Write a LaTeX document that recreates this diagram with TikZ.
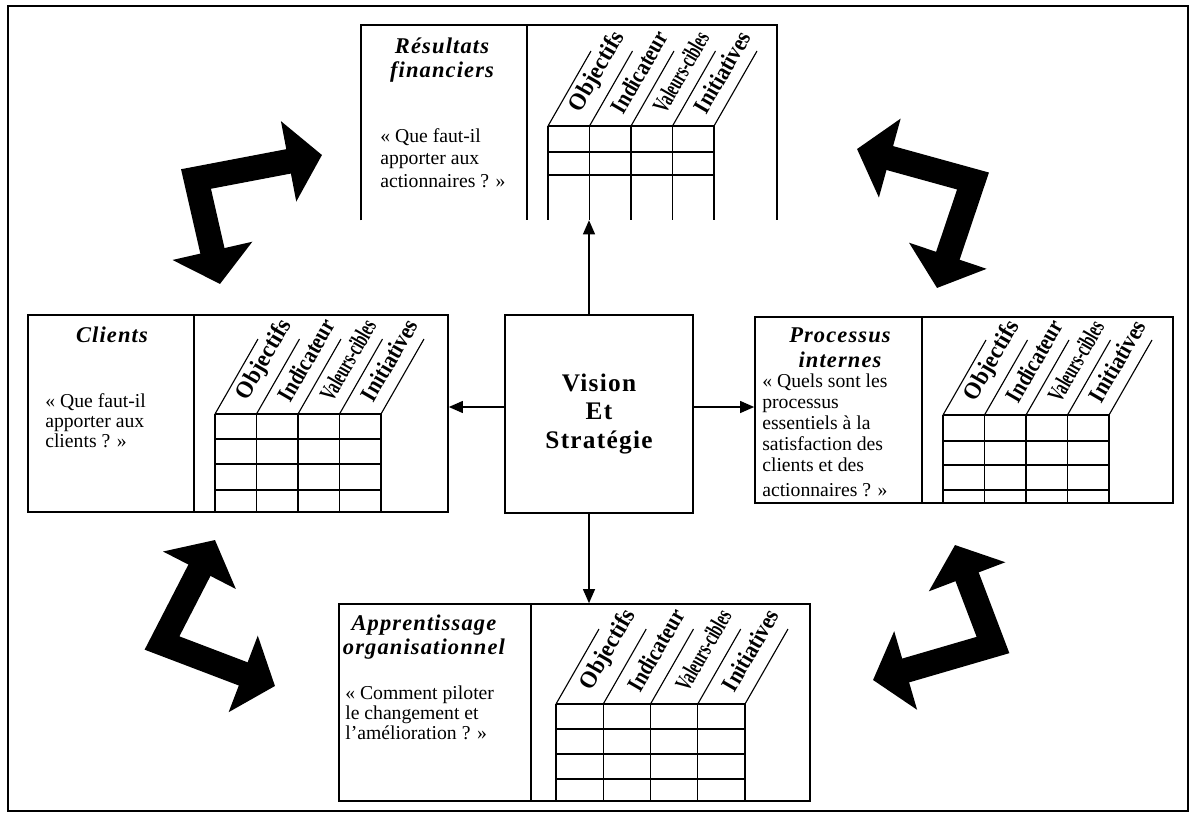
\documentclass[tikz,border=0pt]{standalone}
\usepackage{fontspec}
\setmainfont{Liberation Serif}
\newfontfamily\titrefont[LetterSpace=5]{Liberation Serif}
\usepackage{graphicx}
\usetikzlibrary{arrows.meta,fit}

% grille d'un tableau de bord : x0, largeur colonne, haut, bas, lignes, prefixe
\newcommand{\grille}[6]{%
  \foreach \c in {0,...,4} {
    \draw[trait] (#1+\c*#2,#3) -- (#1+\c*#2,#4);
    \draw[trait] (#1+\c*#2,#3) -- ++(43,-75);
  }
  \foreach \r in {#5}
    \draw[trait] (#1,\r) -- (#1+4*#2,\r);
  \foreach \t/\s [count=\i from 0] in {Objectifs/0.95,Indicateur/0.84,Valeurs-cibles/0.62,Initiatives/0.88}
    \node[entete] (#6-\i) at (#1+\i*#2+#2/2+29,#3-54) {\scalebox{\s}[1]{\t}};
}

\begin{document}
\begin{tikzpicture}[
  x=0.025cm, y=-0.025cm,
  cadre/.style={draw, line width=1.2pt, inner sep=0pt},
  panneau/.style={draw, line width=1.2pt, inner sep=0pt},
  trait/.style={thick},
  titre/.style={font=\titrefont\fontsize{16}{17.5}\selectfont\bfseries\itshape, align=center},
  question/.style={font=\fontsize{14}{15.5}\selectfont, align=left,
                   anchor=north west, inner sep=0pt},
  entete/.style={rotate=60, font=\fontsize{17}{17}\selectfont\bfseries, inner sep=0pt},
  fleche/.style={thick, -{Triangle[length=0.35cm, width=0.3cm]}},
  grosse/.style={line width=0.62cm, line join=miter,
                 {Triangle[length=0.85cm, width=2cm]}-{Triangle[length=0.85cm, width=2cm]}},
]
  \useasboundingbox (0,0) rectangle (1190,815);
  \node[cadre, fit={(8,6) (1188,811)}] (cadre) {};

  % centre
  \node[draw, line width=1.2pt, minimum width=4.7cm, minimum height=4.95cm,
        font=\titrefont\fontsize{18}{20}\selectfont\bfseries, align=center]
    (vision) at (599,414) {Vision\\Et\\Strat\'egie};

  % resultats financiers (ouvert en bas)
  \node[fit={(361,25) (777,220)}, inner sep=0pt] (fin) {};
  \draw[line width=1.2pt] (fin.south west) -- (fin.north west) -- (fin.north east) -- (fin.south east);
  \draw[line width=1.2pt] (527,25) -- (527,220);
  \node[titre] (finT) at (442,60) {R\'esultats\\financiers};
  \node[question, font=\fontsize{14}{16}\selectfont] (finQ) at (380,128)
    {« Que faut-il\\apporter aux\\actionnaires ? »};
  \grille{548}{41.5}{126}{220}{126,152,175}{fin}

  % clients
  \node[panneau, fit={(28,315) (448,512)}] (cli) {};
  \draw[line width=1.2pt] (194,315) -- (194,512);
  \node[titre] (cliT) at (112,335) {Clients};
  \node[question, font=\fontsize{14}{14.5}\selectfont] (cliQ) at (45,393)
    {« Que faut-il\\apporter aux\\clients ? »};
  \grille{215}{41.5}{414}{512}{414,439,464,490}{cli}

  % processus internes
  \node[panneau, fit={(755,317) (1173,503)}] (pro) {};
  \draw[line width=1.2pt] (922,317) -- (922,503);
  \node[titre] (proT) at (840,348) {Processus\\internes};
  \node[question, font=\fontsize{14}{14.8}\selectfont] (proQ) at (762,374)
    {« Quels sont les\\processus\\essentiels à la\\satisfaction des\\clients et des\\[3pt]actionnaires ? »};
  \grille{943}{41.5}{415}{503}{415,441,465,490}{pro}

  % apprentissage organisationnel
  \node[panneau, fit={(339,604) (810,801)}] (app) {};
  \draw[line width=1.2pt] (531,604) -- (531,801);
  \node[titre] (appT) at (424,637) {Apprentissage\\organisationnel};
  \node[question, font=\fontsize{14}{14}\selectfont] (appQ) at (345,686)
    {« Comment piloter\\le changement et\\l'amélioration ? »};
  \grille{556}{47.25}{704}{801}{704,729,754,779}{app}

  % fleches du centre
  \coordinate (hautV) at ([xshift=-0.25cm]vision.north);
  \coordinate (basV) at ([xshift=-0.25cm]vision.south);
  \coordinate (gaucheV) at ([yshift=0.175cm]vision.west);
  \coordinate (droiteV) at ([yshift=0.175cm]vision.east);
  \draw[fleche] (hautV) -- (hautV |- fin.south);
  \draw[fleche] (basV) -- (basV |- app.north);
  \draw[fleche] (gaucheV) -- (gaucheV -| cli.east);
  \draw[fleche] (droiteV) -- (droiteV -| pro.west);

  % grosses fleches coudees
  \draw[grosse] (322,155) -- (196,179) -- (220,284);
  \draw[grosse] (857,149) -- (973,181) -- (937,288);
  \draw[grosse] (215,540) -- (162,643) -- (275,686);
  \draw[grosse] (873,680) -- (993,645) -- (955,545);
\end{tikzpicture}
\end{document}
